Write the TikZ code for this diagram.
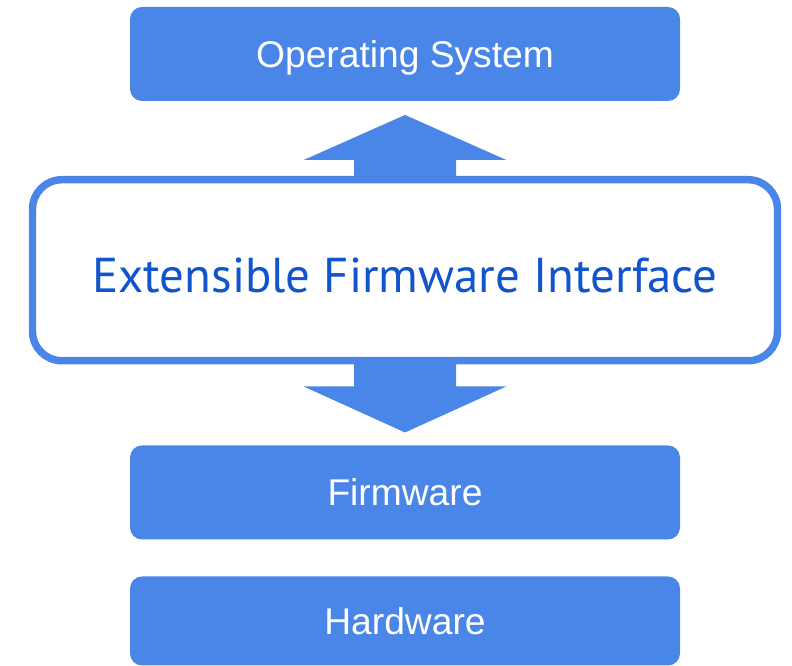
\documentclass[tikz,border=0pt]{standalone}
\usepackage{fontspec}
\setmainfont{Liberation Sans}
\newfontfamily\efifont{PT Sans}
\usepackage{tikz}
\usetikzlibrary{positioning, calc}
\definecolor{layerblue}{HTML}{4A86E8}
\definecolor{efitext}{HTML}{1155CC}

\begin{document}
\begin{tikzpicture}[
          node distance=27.75pt,
          layer/.style={fill=layerblue, rounded corners=9pt, minimum width=412.5pt, minimum height=70.5pt,
                        inner sep=0pt, outer sep=0pt, text height=20pt, text depth=0pt,
                        text=white, font=\fontsize{27.9}{30}\selectfont},
          efibox/.style={draw=layerblue, line width=5.6pt, fill=white, rounded corners=22pt,
                         minimum width=558.75pt, minimum height=135.75pt, text height=33pt, text depth=0pt,
                         text=efitext, font=\efifont\fontsize{36.7}{40}\selectfont},
          blockarr/.style={fill=layerblue},
        ]
        \useasboundingbox (0,0) rectangle (594pt,-499.5pt);
        \node[layer] (os) at (303.75pt,-40.5pt) {Operating System};
        \node[efibox, below=56.25pt of os] (efi) {Extensible Firmware Interface};
        \node[layer, below=60.75pt of efi] (fw) {Firmware};
        \node[layer, below=of fw, minimum height=66.75pt] (hw) {Hardware};
        % block arrows around the EFI layer
        \fill[blockarr] ($(efi.north)+(-38.25pt,-2pt)$) |- ($(efi.north)+(-76pt,12pt)$)
          -- ($(efi.north)+(0,45.75pt)$) -- ($(efi.north)+(76pt,12pt)$)
          -| ($(efi.north)+(38.25pt,-2pt)$) -- cycle;
        \fill[blockarr] ($(efi.south)+(-38.25pt,2pt)$) |- ($(efi.south)+(-76pt,-16.5pt)$)
          -- ($(efi.south)+(0,-51pt)$) -- ($(efi.south)+(76pt,-16.5pt)$)
          -| ($(efi.south)+(38.25pt,2pt)$) -- cycle;
      \end{tikzpicture}
\end{document}
